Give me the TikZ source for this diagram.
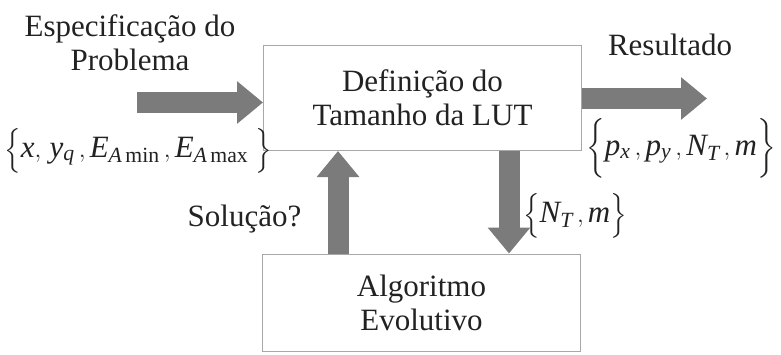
\documentclass[tikz,border=0pt]{standalone}
\usetikzlibrary{arrows.meta}
\usepackage{amsmath}
\usepackage{fontspec}
\setmainfont{Liberation Serif}
\definecolor{arrowgray}{HTML}{7B7B7B}
\definecolor{boxgray}{HTML}{A8A8A8}
\definecolor{inkgray}{HTML}{222222}

\begin{document}
\begin{tikzpicture}[line width=1pt,>=Stealth,
  x={(1pt,0pt)}, y={(0pt,-1pt)}]
\tikzset{blk/.style={draw=boxgray,fill=white,line width=1pt,minimum width=318pt,
    align=center,text=inkgray,font=\fontsize{31}{34}\selectfont},
  lbl/.style={text=inkgray,font=\fontsize{31}{34}\selectfont,align=center,inner sep=0pt},
  blockarrow/.style={draw=arrowgray,line width=21pt,
    -{Triangle[width=41pt,length=26pt]}}}
\useasboundingbox (0,0) rectangle (781,354);
% ---------- blocks ----------
\node[blk,minimum height=105pt] (lut) at (422.5,98) {Definição do\\Tamanho da LUT};
\node[blk,minimum height=97pt] (evo) at (421.5,302.5) {Algoritmo\\Evolutivo};
% ---------- free ends of the arrows ----------
\coordinate (in) at (137,102.5);
\coordinate (out) at (707,98.5);
\coordinate (up) at (338,0);
\coordinate (dn) at (509,0);
% ---------- arrows ----------
\draw[blockarrow] (in) -- (in -| lut.west);
\draw[blockarrow] (lut.east |- out) -- (out);
\draw[blockarrow] (up |- evo.north) -- (up |- lut.south);
\draw[blockarrow] (dn |- lut.south) -- (dn |- evo.north);
% ---------- labels ----------
\node[lbl] (spec) at (130,43) {Especificação do\\Problema};
\node[lbl,anchor=base] (inp) at (138,157)
  {$\Bigl\{\mathit{x},\,\mathit{y}_{\mathit{q}}\,,\mathit{E}_{\mathit{A}\,\mathrm{min}}\,,\mathit{E}_{\mathit{A}\,\mathrm{max}}\;\Bigr\}$};
\node[lbl,anchor=base] (res) at (670,55) {Resultado};
\node[lbl,anchor=base] (outp) at (681,155)
  {$\biggl\{\mathit{p}_{\mathit{x}}\,,\mathit{p}_{\mathit{y}}\,,\mathit{N}_{\mathit{T}}\,,\mathit{m}\biggr\}$};
\node[lbl,anchor=base] (ntm) at (575,222) {$\Bigl\{\mathit{N}_{\mathit{T}}\,,\mathit{m}\Bigr\}$};
\node[lbl,anchor=base] (sol) at (244.5,226) {Solução?};
\end{tikzpicture}
\end{document}
